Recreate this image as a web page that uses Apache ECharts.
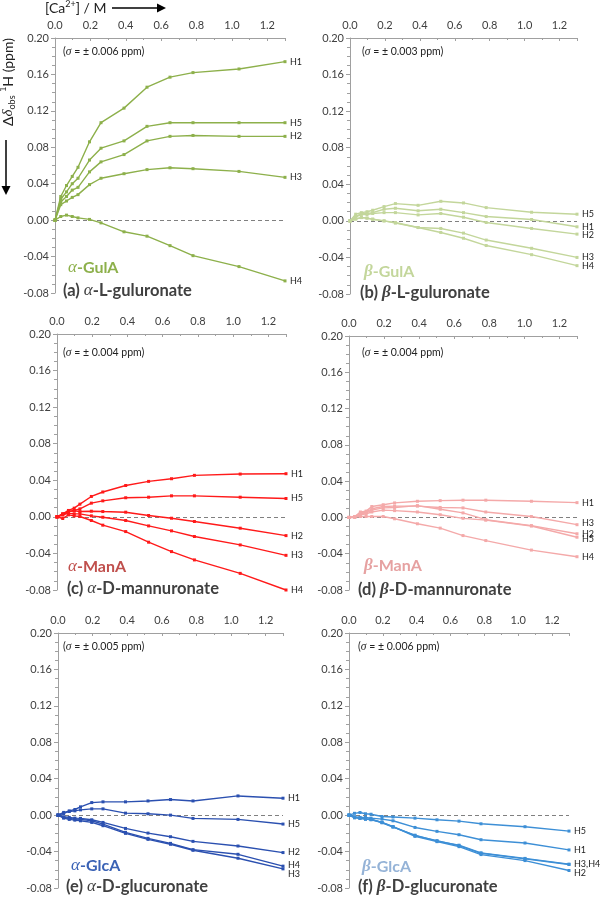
<!DOCTYPE html>
<html><head><meta charset="utf-8">
<script src="https://cdn.jsdelivr.net/npm/echarts@6/dist/echarts.min.js"></script>
<style>html,body{margin:0;padding:0;background:#fff}#c{width:600px;height:898px}</style>
</head><body><div id="c"></div>
<script>
// [Ca2+] / M
const conc = [0, 0.0325, 0.065, 0.0975, 0.13, 0.195, 0.26, 0.39, 0.52, 0.65, 0.78, 1.04, 1.30];
const yMin = -0.08, yMax = 0.20, yStep = 0.04;
const xMin = 0, xMax = 1.3, xStep = 0.2;

// (a) alpha-L-guluronate
const aGul_H1 = [0, 0.026, 0.038, 0.048, 0.058, 0.086, 0.107, 0.123, 0.146, 0.157, 0.162, 0.166, 0.174];
const aGul_H5 = [0, 0.023, 0.031, 0.040, 0.046, 0.066, 0.079, 0.087, 0.103, 0.107, 0.107, 0.107, 0.107];
const aGul_H2 = [0, 0.020, 0.026, 0.033, 0.036, 0.053, 0.064, 0.072, 0.087, 0.092, 0.093, 0.092, 0.092];
const aGul_H3 = [0, 0.017, 0.021, 0.025, 0.028, 0.039, 0.046, 0.051, 0.0555, 0.0575, 0.0565, 0.0535, 0.047];
const aGul_H4 = [0, 0.004, 0.0055, 0.004, 0.0025, 0.0008, -0.003, -0.0128, -0.0176, -0.028, -0.039, -0.051, -0.0667];

// (b) beta-L-guluronate
const bGul_H5 = [0, 0.0073, 0.009, 0.010, 0.0116, 0.0156, 0.0189, 0.017, 0.0214, 0.0196, 0.0145, 0.0094, 0.0073];
const bGul_H1 = [0, 0.005, 0.008, 0.008, 0.009, 0.0127, 0.0138, 0.011, 0.0127, 0.009, 0.0047, 0.0015, -0.0065];
const bGul_H2 = [0, 0.004, 0.007, 0.007, 0.008, 0.009, 0.009, 0.0065, 0.008, 0.004, -0.0018, -0.0083, -0.0145];
const bGul_H3 = [0, 0.002, 0.0036, 0.003, 0.0018, 0, -0.0018, -0.0073, -0.0083, -0.0134, -0.021, -0.030, -0.040];
const bGul_H4 = [0, 0.002, 0.0036, 0.003, 0.0018, 0, -0.0025, -0.0073, -0.0127, -0.019, -0.027, -0.037, -0.049];

// (c) alpha-D-mannuronate
const aMan_H1 = [0, 0.0033, 0.007, 0.0095, 0.0139, 0.0223, 0.0272, 0.0343, 0.0388, 0.0417, 0.0454, 0.0468, 0.0472];
const aMan_H5 = [0, 0.0022, 0.0058, 0.007, 0.0087, 0.015, 0.0175, 0.0209, 0.0215, 0.023, 0.023, 0.0215, 0.0201];
const aMan_H2 = [0, 0.0033, 0.0058, 0.0066, 0.0058, 0.0062, 0.0058, 0.0051, 0.0015, -0.0015, -0.0051, -0.0124, -0.0205];
const aMan_H3 = [0, 0.0022, 0.0039, 0.0033, 0.0033, 0.0011, -0.0004, -0.004, -0.0099, -0.0153, -0.0215, -0.0307, -0.0421];
const aMan_H4 = [0, -0.0018, 0.0022, 0.0011, 0.0004, -0.004, -0.0091, -0.0161, -0.0277, -0.038, -0.0471, -0.0618, -0.080];

// (d) beta-D-mannuronate
const bMan_H1 = [0, 0.001, 0.006, 0.007, 0.012, 0.014, 0.016, 0.0178, 0.0185, 0.019, 0.019, 0.0178, 0.0163];
const bMan_H3 = [0, 0.0005, 0.005, 0.006, 0.0095, 0.012, 0.0125, 0.0125, 0.011, 0.0105, 0.006, 0.001, -0.008];
const bMan_H2 = [0, 0.0005, 0.004, 0.005, 0.008, 0.0105, 0.011, 0.013, 0.009, 0.005, -0.0025, -0.009, -0.018];
const bMan_H5 = [0, 0, 0.003, 0.004, 0.006, 0.008, 0.0075, 0.006, 0.003, -0.001, -0.003, -0.0095, -0.0218];
const bMan_H4 = [0, 0.0005, 0.001, 0.001, 0.001, 0.001, -0.0015, -0.007, -0.0118, -0.020, -0.0255, -0.036, -0.0433];

// (e) alpha-D-glucuronate
const aGlc_H1 = [0, 0.0018, 0.0047, 0.0062, 0.0091, 0.0138, 0.0146, 0.0146, 0.0156, 0.0171, 0.0156, 0.0211, 0.0186];
const aGlc_H5 = [0, 0.003, 0.004, 0.0047, 0.0058, 0.0069, 0.0069, 0.0022, 0.0015, 0, -0.0036, -0.0047, -0.0098];
const aGlc_H2 = [0, -0.0018, -0.0025, -0.0033, -0.0036, -0.0051, -0.008, -0.0146, -0.0197, -0.0237, -0.0288, -0.0339, -0.0411];
const aGlc_H4 = [0, -0.0025, -0.0036, -0.0044, -0.0047, -0.0062, -0.0098, -0.0189, -0.0255, -0.031, -0.0379, -0.043, -0.056];
const aGlc_H3 = [0, -0.0033, -0.0047, -0.0055, -0.0062, -0.008, -0.0116, -0.020, -0.0266, -0.032, -0.0386, -0.0473, -0.059];

// (f) beta-D-glucuronate
const bGlc_H5 = [0, 0.002, 0.0029, 0.0015, 0.001, -0.0015, -0.002, -0.0033, -0.0051, -0.0066, -0.0095, -0.0127, -0.0175];
const bGlc_H1 = [0, -0.0018, -0.0025, -0.0025, -0.0033, -0.0044, -0.0062, -0.0135, -0.0178, -0.0215, -0.027, -0.0306, -0.0382];
const bGlc_H3 = [0, -0.0025, -0.0033, -0.004, -0.0044, -0.008, -0.0127, -0.0226, -0.028, -0.0335, -0.0419, -0.048, -0.0542];
const bGlc_H4 = [0, -0.003, -0.0036, -0.0044, -0.0047, -0.0084, -0.0131, -0.022, -0.0285, -0.033, -0.0414, -0.0475, -0.0538];
const bGlc_H2 = [0, -0.0022, -0.0033, -0.0044, -0.0051, -0.008, -0.0127, -0.0233, -0.0291, -0.0346, -0.0433, -0.0499, -0.0608];

const FONT = 'Lato';
const panels = [
  {grid:{left:55, top:38, width:230, height:255}, color:'#8DB04B',
   series:[['H1',aGul_H1,'H1',0],['H5',aGul_H5,'H5',0],['H2',aGul_H2,'H2',0],['H3',aGul_H3,'H3',0],['H4',aGul_H4,'H4',0]],
   sigma:'0.006', sx:63, sy:52,
   name:{g:'α', gb:false, rest:'-GulA', color:'#8DB04B', x:68, y:268},
   title:{l:'a', g:'α', gb:false, rest:'-L-guluronate', x:63, y:291}},
  {grid:{left:350, top:38, width:227, height:256}, color:'#C3D69B',
   series:[['H5',bGul_H5,'H5',0],['H1',bGul_H1,'H1',0],['H2',bGul_H2,'H2',1],['H3',bGul_H3,'H3',0],['H4',bGul_H4,'H4',0]],
   sigma:'0.003', sx:362, sy:52,
   name:{g:'β', gb:true, rest:'-GulA', color:'#C3D69B', x:364, y:272},
   title:{l:'b', g:'β', gb:true, rest:'-L-guluronate', x:360, y:293}},
  {grid:{left:57, top:334, width:229, height:256}, color:'#FF1A1A',
   series:[['H1',aMan_H1,'H1',0],['H5',aMan_H5,'H5',0],['H2',aMan_H2,'H2',0],['H3',aMan_H3,'H3',0],['H4',aMan_H4,'H4',0]],
   sigma:'0.004', sx:63, sy:353,
   name:{g:'α', gb:false, rest:'-ManA', color:'#C0504D', x:68, y:567},
   title:{l:'c', g:'α', gb:false, rest:'-D-mannuronate', x:67, y:589}},
  {grid:{left:349, top:336, width:228, height:254}, color:'#F4A9A9',
   series:[['H1',bMan_H1,'H1',0],['H3',bMan_H3,'H3',-2],['H2',bMan_H2,'H2',0],['H5',bMan_H5,'H5',2],['H4',bMan_H4,'H4',0]],
   sigma:'0.004', sx:362, sy:353,
   name:{g:'β', gb:true, rest:'-ManA', color:'#E6A1A1', x:364, y:566},
   title:{l:'d', g:'β', gb:true, rest:'-D-mannuronate', x:358, y:590}},
  {grid:{left:58, top:633, width:225, height:255}, color:'#2B50B0',
   series:[['H1',aGlc_H1,'H1',0],['H5',aGlc_H5,'H5',0],['H2',aGlc_H2,'H2',0],['H4',aGlc_H4,'H4',-1],['H3',aGlc_H3,'H3',5]],
   sigma:'0.005', sx:63, sy:647,
   name:{g:'α', gb:false, rest:'-GlcA', color:'#3A62B5', x:71, y:866},
   title:{l:'e', g:'α', gb:false, rest:'-D-glucuronate', x:66, y:887}},
  {grid:{left:349, top:633, width:220, height:255}, color:'#3D8FD6',
   series:[['H5',bGlc_H5,'H5',0],['H1',bGlc_H1,'H1',0],['H3',bGlc_H3,'H3,H4',0],['H4',bGlc_H4,null,0],['H2',bGlc_H2,'H2',3]],
   sigma:'0.006', sx:358, sy:647,
   name:{g:'β', gb:true, rest:'-GlcA', color:'#95B3D7', x:362, y:867},
   title:{l:'f', g:'β', gb:true, rest:'-D-glucuronate', x:358, y:887}}
];

const axisGray = '#A0A0A0';
const textGray = '#404040';
const series = [];
panels.forEach((p, i) => {
  p.series.forEach((s, k) => {
    const item = {
      type:'line', name:s[0], xAxisIndex:i, yAxisIndex:i,
      data: conc.map((x, j) => [x, s[1][j]]),
      symbol:'rect', symbolSize:3, showSymbol:true,
      lineStyle:{color:p.color, width:1.4},
      itemStyle:{color:p.color},
      z: 3,
      endLabel: s[2] ? {show:true, formatter:s[2], distance:5, offset:[0, s[3]],
        fontSize:9, fontFamily:FONT, color:'#222'} : {show:false},
      emphasis:{disabled:true}
    };
    if (k === 0) {
      item.markLine = {silent:true, symbol:'none', label:{show:false}, z:1,
        lineStyle:{type:[4,3], color:'#808080', width:1}, data:[{yAxis:0}]};
    }
    series.push(item);
  });
});

const graphics = [];
panels.forEach(p => {
  graphics.push({type:'text', x:p.sx, y:p.sy, style:{
    text:'{n|(}{i|σ}{n| = ± ' + p.sigma + ' ppm)}', align:'left', verticalAlign:'middle',
    rich:{n:{fontFamily:FONT, fontSize:10.5, fill:'#222'}, i:{fontFamily:'Liberation Serif', fontStyle:'italic', fontSize:11.5, fill:'#222'}}}});
  graphics.push({type:'text', x:p.name.x, y:p.name.y, style:{
    text:'{g|' + p.name.g + '}{n|' + p.name.rest + '}', align:'left', verticalAlign:'middle',
    rich:{n:{fontFamily:FONT, fontWeight:'bold', fontSize:16, fill:p.name.color},
          g:{fontFamily:'Liberation Serif', fontStyle:'italic', fontWeight:p.name.gb?'bold':'normal', fontSize:17, fill:p.name.color}}}});
  graphics.push({type:'text', x:p.title.x, y:p.title.y, style:{
    text:'{n|(' + p.title.l + ') }{g|' + p.title.g + '}{n|' + p.title.rest + '}', align:'left', verticalAlign:'middle',
    rich:{n:{fontFamily:FONT, fontWeight:'bold', fontSize:16.5, fill:textGray},
          g:{fontFamily:'Liberation Serif', fontStyle:'italic', fontWeight:p.title.gb?'bold':'normal', fontSize:17, fill:textGray}}}});
});
// x-axis title and arrow
graphics.push({type:'text', x:45, y:8, style:{
  text:'{n|[Ca}{p|2+}{n|] / M}', align:'left', verticalAlign:'middle',
  rich:{n:{fontFamily:FONT, fontSize:14, fill:'#222', lineHeight:16},
        p:{fontFamily:FONT, fontSize:9, fill:'#222', lineHeight:9, verticalAlign:'top'}}}});
graphics.push({type:'line', shape:{x1:112, y1:8, x2:160, y2:8}, style:{stroke:'#000', lineWidth:1.5}});
graphics.push({type:'polygon', shape:{points:[[157,3.5],[166,8],[157,12.5]]}, style:{fill:'#000'}});
// y-axis title and arrow
graphics.push({type:'text', x:8, y:82, rotation:Math.PI/2, style:{
  text:'{n|Δ}{i|δ}{s|obs}{n| }{p|1}{n|H (ppm)}', align:'center', verticalAlign:'middle',
  rich:{n:{fontFamily:FONT, fontSize:14, fill:'#222', lineHeight:18},
        i:{fontFamily:'Liberation Serif', fontStyle:'italic', fontSize:15, fill:'#222', lineHeight:18},
        s:{fontFamily:FONT, fontSize:9, fill:'#222', lineHeight:9, verticalAlign:'bottom'},
        p:{fontFamily:FONT, fontSize:9, fill:'#222', lineHeight:9, verticalAlign:'top'}}}});
graphics.push({type:'line', shape:{x1:6, y1:140, x2:6, y2:188}, style:{stroke:'#000', lineWidth:1.5}});
graphics.push({type:'polygon', shape:{points:[[1.5,186],[6,195],[10.5,186]]}, style:{fill:'#000'}});

const option = {
  animation:false,
  backgroundColor:'#fff',
  grid: panels.map(p => Object.assign({containLabel:false}, p.grid)),
  xAxis: panels.map((p, i) => ({
    type:'value', gridIndex:i, position:'top', min:xMin, max:xMax, interval:xStep,
    axisLine:{show:true, onZero:false, lineStyle:{color:axisGray}},
    axisTick:{show:true, inside:true, length:3, lineStyle:{color:axisGray}},
    minorTick:{show:true, splitNumber:2, length:2, lineStyle:{color:axisGray}},
    splitLine:{show:false},
    axisLabel:{formatter:v => v.toFixed(1), showMaxLabel:false, margin:7, fontSize:11, color:textGray, fontFamily:FONT}
  })),
  yAxis: panels.map((p, i) => ({
    type:'value', gridIndex:i, min:yMin, max:yMax, interval:yStep,
    axisLine:{show:true, onZero:false, lineStyle:{color:axisGray}},
    axisTick:{show:true, length:4, lineStyle:{color:axisGray}},
    minorTick:{show:true, splitNumber:4, length:3, lineStyle:{color:axisGray}},
    splitLine:{show:false},
    axisLabel:{formatter:v => v.toFixed(2), margin:6, fontSize:11, color:textGray, fontFamily:FONT}
  })),
  series: series,
  graphic: graphics
};
const chart = echarts.init(document.getElementById('c'), null, {renderer:'canvas'});
chart.setOption(option);
</script></body></html>
